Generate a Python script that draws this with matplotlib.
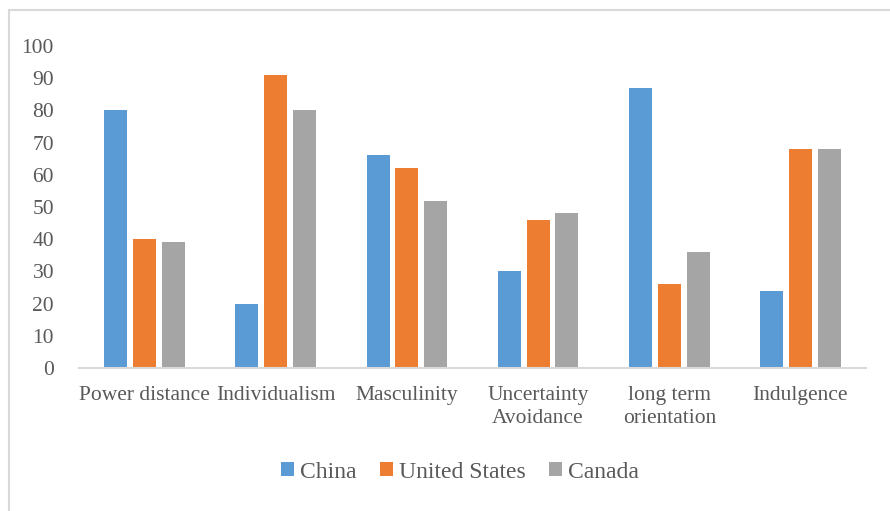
import matplotlib
matplotlib.use('Agg')
import matplotlib.pyplot as plt
import matplotlib.patches as mpatches
import numpy as np

categories = ['Power distance', 'Individualism', 'Masculinity', 'Uncertainty\nAvoidance',
              'long term\norientation', 'Indulgence']
china = [80, 20, 66, 30, 87, 24]
usa = [40, 91, 62, 46, 26, 68]
canada = [39, 80, 52, 48, 36, 68]
series_names = ['China', 'United States', 'Canada']
y_ticks = list(range(0, 101, 10))

colors = ['#5b9bd5', '#ed7d31', '#a5a5a5']
text_color = '#595959'

plt.rcParams['font.family'] = ['Liberation Serif', 'DejaVu Serif']

fig = plt.figure(figsize=(8.9, 5.11), dpi=100)
W, H = 890, 511
ax = fig.add_axes([79 / W, (H - 368) / H, (866 - 79) / W, (368 - 46) / H])

x = np.arange(len(categories))
bw = 0.175
step = 0.22
for i, (vals, name) in enumerate(zip([china, usa, canada], series_names)):
    ax.bar(x + (i - 1) * step, vals, width=bw, color=colors[i], label=name)

ax.set_xlim(-0.5, len(categories) - 0.5)
ax.set_ylim(0, 100)
ax.set_yticks(y_ticks)
ax.set_xticks(x)
ax.set_xticklabels(categories, linespacing=1.3)
ax.tick_params(axis='both', length=0, labelsize=15.5, colors=text_color)
ax.tick_params(axis='x', pad=13)
ax.tick_params(axis='y', pad=18)
for s in ['top', 'right', 'left']:
    ax.spines[s].set_visible(False)
ax.spines['bottom'].set_color('#d9d9d9')
ax.spines['bottom'].set_linewidth(1.5)

leg = fig.legend(loc='center', bbox_to_anchor=(460 / W, (H - 472) / H), ncol=3,
                 frameon=False, fontsize=17, handlelength=0.55, handleheight=0.55,
                 handletextpad=0.25, columnspacing=1.0)
for t in leg.get_texts():
    t.set_color(text_color)

# chart border
fig.patches.append(mpatches.Rectangle((9 / W, -0.1), 1.2, (H - 10) / H + 0.1,
                                      transform=fig.transFigure, fill=False,
                                      edgecolor='#d9d9d9', linewidth=1.5))

fig.savefig('out.png', dpi=100)
